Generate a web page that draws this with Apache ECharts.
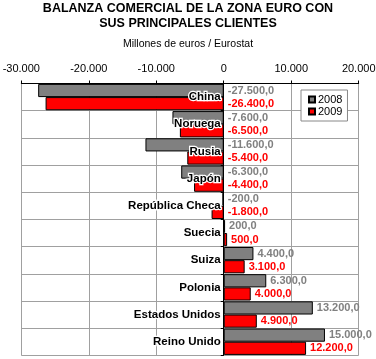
<!DOCTYPE html>
<html><head><meta charset="utf-8">
<script src="https://cdn.jsdelivr.net/npm/echarts@6/dist/echarts.min.js"></script>
<style>html,body{margin:0;padding:0;background:#fff}#c{width:376px;height:359px}</style>
</head><body><div id="c"></div>
<script>
const categories = ['China','Noruega','Rusia','Japón','República Checa','Suecia','Suiza','Polonia','Estados Unidos','Reino Unido'];
const values2008 = [-27500,-7600,-11600,-6300,-200,200,4400,6300,13200,15000];
const values2009 = [-26400,-6500,-5400,-4400,-1800,500,3100,4000,4900,12200];
const seriesNames = ['2008','2009'];
const axisMin = -30000, axisMax = 20000, axisStep = 10000;

const FONT = "'Liberation Sans', Arial, sans-serif";
const W = 376, GRID_L = 21.3, GRID_R = 17.3;
// place the category axis at the value 0 of the value axis
const zeroOffset = -((0 - axisMin) / (axisMax - axisMin)) * (W - GRID_L - GRID_R);

function thousands(v){
  const s = Math.abs(Math.round(v)).toString().replace(/\B(?=(\d{3})+(?!\d))/g,'.');
  return (v < 0 ? '-' : '') + s;
}
function valueLabel(color){
  return {
    show:true, position:'right', distance:4,
    color:color, fontFamily:FONT, fontWeight:'bold', fontSize:11,
    formatter:p => thousands(p.value) + ',0'
  };
}
const chart = echarts.init(document.getElementById('c'), null, {renderer:'canvas'});
chart.setOption({
  animation:false,
  backgroundColor:'#fff',
  title:{
    text:'BALANZA COMERCIAL DE LA ZONA EURO CON\nSUS PRINCIPALES CLIENTES',
    subtext:'Millones de euros / Eurostat',
    left:'center', top:0, itemGap:7, padding:[1,0,0,0],
    textStyle:{fontFamily:FONT, fontWeight:'bold', fontSize:12.5, lineHeight:15, color:'#000'},
    subtextStyle:{fontFamily:FONT, fontSize:10.5, lineHeight:12, color:'#000'}
  },
  legend:{
    data:seriesNames, orient:'vertical', left:301, top:90,
    padding:[4,5,4,7], itemWidth:6, itemHeight:6, itemGap:1,
    icon:'rect', borderColor:'#888', borderWidth:1, backgroundColor:'#fff',
    textStyle:{fontFamily:FONT, fontSize:11, lineHeight:11, color:'#000', padding:[0,0,0,-2]}
  },
  grid:{left:GRID_L, right:GRID_R, top:83.5, bottom:3.7, containLabel:false, outerBoundsMode:'none'},
  xAxis:{
    type:'value', position:'top', min:axisMin, max:axisMax, interval:axisStep,
    axisLine:{show:true, onZero:false, lineStyle:{color:'#000', width:1}},
    axisTick:{show:true, length:3, lineStyle:{color:'#000'}},
    axisLabel:{fontFamily:FONT, fontSize:11, color:'#000', margin:9, formatter:v => thousands(v)},
    splitLine:{show:true, lineStyle:{color:'#a0a0a0', width:1}}
  },
  yAxis:[{
    type:'category', data:categories, inverse:true, position:'left',
    axisLine:{show:false, onZero:false},
    axisTick:{show:false},
    axisLabel:{show:false},
    splitLine:{show:true, lineStyle:{color:'#a0a0a0', width:1}}
  },{
    type:'category', data:categories, inverse:true, position:'left', z:10,
    offset:zeroOffset,
    axisLine:{show:true, onZero:false, lineStyle:{color:'#000', width:1}},
    axisTick:{show:true, length:3, lineStyle:{color:'#000'}},
    axisLabel:{show:true, margin:3, fontFamily:FONT, fontWeight:'bold', fontSize:11.5, color:'#000',
      textBorderColor:'#fff', textBorderWidth:2.5},
    splitLine:{show:false}
  }],
  series:[{
    name:seriesNames[0], type:'bar', yAxisIndex:0, data:values2008,
    barGap:'0%', barCategoryGap:'3%',
    itemStyle:{color:'#808080', borderColor:'#000', borderWidth:1},
    label:valueLabel('#808080')
  },{
    name:seriesNames[1], type:'bar', yAxisIndex:0, data:values2009,
    barGap:'0%', barCategoryGap:'3%',
    itemStyle:{color:'#ff0000', borderColor:'#000', borderWidth:1},
    label:valueLabel('#ff0000')
  }]
});
</script></body></html>
